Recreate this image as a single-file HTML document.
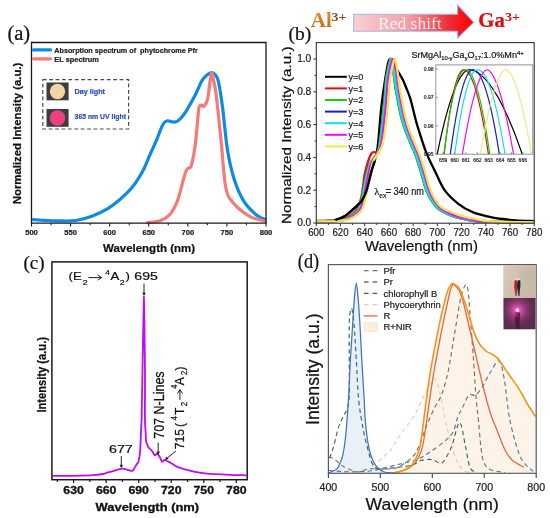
<!DOCTYPE html>
<html><head><meta charset="utf-8"><style>
html,body{margin:0;padding:0;background:#fff;}
svg{display:block;will-change:transform;font-family:"Liberation Sans",sans-serif;}
</style></head><body>
<svg width="550" height="518" viewBox="0 0 550 518">
<rect width="550" height="518" fill="#fff"/>
<text x="7.4" y="39.8" font-family="Liberation Serif" font-size="20.5" fill="#111" stroke="#111" stroke-width="0.22">(a)</text>
<path d="M33.50,219.60 C35.42,219.73 40.83,220.18 45.00,220.40 C49.17,220.62 53.35,220.88 58.50,220.90 C63.65,220.92 70.35,221.27 75.90,220.50 C81.45,219.73 86.48,218.28 91.80,216.30 C97.12,214.32 103.22,211.32 107.80,208.60 C112.38,205.88 115.20,203.60 119.30,200.00 C123.40,196.40 128.48,191.85 132.40,187.00 C136.32,182.15 139.90,176.20 142.80,170.90 C145.70,165.60 147.48,160.42 149.80,155.20 C152.12,149.98 154.53,144.67 156.70,139.60 C158.87,134.53 161.05,127.93 162.80,124.80 C164.55,121.67 165.35,121.25 167.20,120.80 C169.05,120.35 171.95,122.22 173.90,122.10 C175.85,121.98 177.02,121.68 178.90,120.10 C180.78,118.52 182.48,116.78 185.20,112.60 C187.92,108.42 192.42,100.32 195.20,95.00 C197.98,89.68 199.93,84.03 201.90,80.70 C203.87,77.37 205.40,76.35 207.00,75.00 C208.60,73.65 210.08,72.60 211.50,72.60 C212.92,72.60 214.33,73.43 215.50,75.00 C216.67,76.57 217.32,76.53 218.50,82.00 C219.68,87.47 221.12,96.58 222.60,107.80 C224.08,119.02 225.53,137.60 227.40,149.30 C229.27,161.00 231.15,169.50 233.80,178.00 C236.45,186.50 239.58,194.18 243.30,200.30 C247.02,206.42 252.45,211.52 256.10,214.70 C259.75,217.88 263.68,218.62 265.20,219.40" fill="none" stroke="#0b8ae8" stroke-width="3.2" stroke-linejoin="round" stroke-linecap="round"/>
<path d="M147.50,222.60 C149.58,222.28 156.23,222.10 160.00,220.70 C163.77,219.30 167.17,217.58 170.10,214.20 C173.03,210.82 175.30,206.47 177.60,200.40 C179.90,194.33 182.43,182.82 183.90,177.80 C185.37,172.78 185.57,171.97 186.40,170.30 C187.23,168.63 188.07,168.63 188.90,167.80 C189.73,166.97 190.35,169.07 191.40,165.30 C192.45,161.53 194.15,152.73 195.20,145.20 C196.25,137.67 197.07,126.38 197.70,120.10 C198.33,113.82 198.37,110.02 199.00,107.50 C199.63,104.98 200.67,105.20 201.50,105.00 C202.33,104.80 202.97,107.33 204.00,106.30 C205.03,105.27 206.67,103.18 207.70,98.80 C208.73,94.42 209.52,84.37 210.20,80.00 C210.88,75.63 211.25,72.60 211.80,72.60 C212.35,72.60 212.77,76.27 213.50,80.00 C214.23,83.73 214.95,85.05 216.20,95.00 C217.45,104.95 219.40,124.28 221.00,139.70 C222.60,155.12 223.67,176.87 225.80,187.50 C227.93,198.13 229.82,198.70 233.80,203.50 C237.78,208.30 244.47,213.35 249.70,216.30 C254.93,219.25 262.62,220.38 265.20,221.20" fill="none" stroke="#f67a78" stroke-width="3.2" stroke-linejoin="round" stroke-linecap="round"/>
<path d="M31.5,223.2 V42.5 H266.0 V223.2" fill="none" stroke="#1a1a1a" stroke-width="1.3"/>
<line x1="30.9" y1="223.2" x2="266.6" y2="223.2" stroke="#1a1a1a" stroke-width="1.3"/>
<path d="M31.50,223.2v3.2 M51.04,223.2v2.0 M70.58,223.2v3.2 M90.12,223.2v2.0 M109.67,223.2v3.2 M129.21,223.2v2.0 M148.75,223.2v3.2 M168.29,223.2v2.0 M187.83,223.2v3.2 M207.38,223.2v2.0 M226.92,223.2v3.2 M246.46,223.2v2.0 M266.00,223.2v3.2" stroke="#1a1a1a" stroke-width="1.1"/>
<text x="31.50" y="235.3" font-family="Liberation Sans" font-weight="bold" font-size="7.6" text-anchor="middle" fill="#222" stroke="#222" stroke-width="0.22">500</text>
<text x="70.58" y="235.3" font-family="Liberation Sans" font-weight="bold" font-size="7.6" text-anchor="middle" fill="#222" stroke="#222" stroke-width="0.22">550</text>
<text x="109.67" y="235.3" font-family="Liberation Sans" font-weight="bold" font-size="7.6" text-anchor="middle" fill="#222" stroke="#222" stroke-width="0.22">600</text>
<text x="148.75" y="235.3" font-family="Liberation Sans" font-weight="bold" font-size="7.6" text-anchor="middle" fill="#222" stroke="#222" stroke-width="0.22">650</text>
<text x="187.83" y="235.3" font-family="Liberation Sans" font-weight="bold" font-size="7.6" text-anchor="middle" fill="#222" stroke="#222" stroke-width="0.22">700</text>
<text x="226.92" y="235.3" font-family="Liberation Sans" font-weight="bold" font-size="7.6" text-anchor="middle" fill="#222" stroke="#222" stroke-width="0.22">750</text>
<text x="266.00" y="235.3" font-family="Liberation Sans" font-weight="bold" font-size="7.6" text-anchor="middle" fill="#222" stroke="#222" stroke-width="0.22">800</text>
<text x="103" y="251.6" font-family="Liberation Sans" font-weight="bold" font-size="11.4" textLength="92" lengthAdjust="spacingAndGlyphs" fill="#111" stroke="#111" stroke-width="0.22">Wavelength (nm)</text>
<text transform="translate(20.9,204.3) rotate(-90)" x="0" y="0" font-family="Liberation Sans" font-weight="bold" font-size="11.3" textLength="141.7" lengthAdjust="spacingAndGlyphs" fill="#111" stroke="#111" stroke-width="0.22">Normalized Intensity (a.u.)</text>
<line x1="33.5" y1="49.9" x2="50.5" y2="49.9" stroke="#0b8ae8" stroke-width="3.3" stroke-linecap="round"/>
<line x1="33.5" y1="58.8" x2="50.5" y2="58.8" stroke="#f67a78" stroke-width="3.3" stroke-linecap="round"/>
<text x="54.3" y="52.6" font-family="Liberation Sans" font-weight="bold" font-size="7.4" textLength="143.5" lengthAdjust="spacingAndGlyphs" fill="#222" stroke="#222" stroke-width="0.22">Absorption spectrum of&#160; phytochrome Pfr</text>
<text x="54.3" y="61.6" font-family="Liberation Sans" font-weight="bold" font-size="7.4" fill="#222" stroke="#222" stroke-width="0.22">EL spectrum</text>
<rect x="42.8" y="79.7" width="85.8" height="49.3" fill="none" stroke="#4a4a4a" stroke-width="1.2" stroke-dasharray="3.8,2.6"/>
<rect x="46.5" y="82.5" width="22.1" height="17.8" fill="#3e3e3e"/>
<circle cx="57.5" cy="91.5" r="7.7" fill="#f4d4a4"/>
<rect x="46.5" y="109" width="22.1" height="17.8" fill="#3e3e3e"/>
<circle cx="57.5" cy="118" r="7.8" fill="#ee3f7e"/>
<text x="74.6" y="94.0" font-family="Liberation Sans" font-weight="bold" font-size="7.2" fill="#2a4ec8" stroke="#2a4ec8" stroke-width="0.22">Day light</text>
<text x="74.6" y="118.8" font-family="Liberation Sans" font-weight="bold" font-size="7.2" textLength="51.4" lengthAdjust="spacingAndGlyphs" fill="#2a4ec8" stroke="#2a4ec8" stroke-width="0.22">365 nm UV light</text>
<text x="288.5" y="39.6" font-family="Liberation Serif" font-size="19.5" fill="#111" stroke="#111" stroke-width="0.22">(b)</text>
<defs>
<linearGradient id="arrG" x1="0" y1="0" x2="1" y2="0">
<stop offset="0" stop-color="#f7d0d4"/><stop offset="0.45" stop-color="#f4a0a8"/><stop offset="0.8" stop-color="#f02a30"/><stop offset="1" stop-color="#ff0000"/></linearGradient>
<linearGradient id="alG" x1="0" y1="0" x2="0" y2="1">
<stop offset="0" stop-color="#e8962a"/><stop offset="1" stop-color="#b8641a"/></linearGradient>
</defs>
<path d="M353.6,14.2 H457.5 V4.8 L473.8,22.5 L457.5,38.2 V31.2 H353.6 Z" fill="url(#arrG)" stroke="#a8b8e0" stroke-width="1.1"/>
<text x="378" y="28.7" font-family="Liberation Serif" font-size="16.5" textLength="63.7" lengthAdjust="spacingAndGlyphs" fill="#fff" fill-opacity="0.85">Red shift</text>
<text x="310.8" y="27.4" font-family="Liberation Serif" font-weight="bold" font-size="20" textLength="21" lengthAdjust="spacingAndGlyphs" fill="url(#alG)">Al</text>
<text x="331.6" y="21.4" font-family="Liberation Serif" font-weight="bold" font-size="12" textLength="14.8" lengthAdjust="spacingAndGlyphs" fill="#8a4a12" stroke="none">3+</text>
<text x="478.3" y="27.4" font-family="Liberation Serif" font-weight="bold" font-size="20" textLength="26.5" lengthAdjust="spacingAndGlyphs" fill="#e20a0a" stroke="#e20a0a" stroke-width="0.22">Ga</text>
<text x="505" y="21.4" font-family="Liberation Serif" font-weight="bold" font-size="12" textLength="15" lengthAdjust="spacingAndGlyphs" fill="#e20a0a" stroke="none">3+</text>
<path d="M316.30,221.03 C318.32,220.98 325.24,220.87 328.41,220.70 C331.57,220.54 332.62,220.79 335.31,220.05 C337.99,219.31 341.46,218.13 344.51,216.28 C347.55,214.42 351.33,210.84 353.59,208.90 C355.84,206.96 356.71,205.97 358.06,204.63 C359.42,203.29 360.28,203.21 361.70,200.86 C363.11,198.51 364.96,195.31 366.54,190.53 C368.11,185.74 369.79,177.05 371.14,172.16 C372.49,167.27 373.60,165.14 374.65,161.17 C375.70,157.21 376.67,153.57 377.43,148.38 C378.20,143.19 378.60,136.90 379.25,130.01 C379.89,123.12 380.34,115.39 381.31,107.05 C382.28,98.72 383.93,87.32 385.06,79.99 C386.19,72.67 387.24,66.60 388.09,63.10 C388.93,59.60 389.40,59.00 390.14,59.00 C390.89,59.00 391.44,61.32 392.57,63.10 C393.69,64.88 395.75,67.83 396.92,69.66 C398.09,71.49 398.58,72.37 399.59,74.09 C400.60,75.81 401.83,77.59 402.98,79.99 C404.13,82.40 405.28,85.46 406.49,88.52 C407.70,91.58 409.05,94.53 410.24,98.36 C411.43,102.19 412.50,107.11 413.63,111.48 C414.76,115.85 414.96,117.88 417.02,124.60 C419.08,131.32 423.03,144.17 425.98,151.82 C428.92,159.48 431.59,164.12 434.69,170.52 C437.80,176.92 440.68,184.65 444.62,190.20 C448.55,195.75 453.62,200.15 458.30,203.81 C462.98,207.47 467.48,209.99 472.70,212.18 C477.93,214.36 485.11,215.84 489.65,216.93 C494.19,218.03 495.54,218.16 499.94,218.74 C504.34,219.31 510.33,219.99 516.04,220.38 C521.75,220.76 531.17,220.92 534.20,221.03" fill="none" stroke="#000000" stroke-width="2.3" stroke-linejoin="round"/>
<path d="M316.66,221.36 C319.63,221.28 329.52,221.41 334.46,220.87 C339.40,220.32 342.51,220.08 346.32,218.08 C350.14,216.08 354.78,212.72 357.34,208.90 C359.90,205.07 360.49,200.81 361.70,195.12 C362.91,189.43 363.49,180.52 364.60,174.78 C365.71,169.04 367.20,164.26 368.35,160.68 C369.50,157.10 370.53,154.72 371.50,153.30 C372.47,151.88 373.28,152.23 374.16,152.15 C375.05,152.07 376.08,152.75 376.83,152.81 C377.57,152.86 378.14,153.90 378.64,152.48 C379.15,151.06 379.47,147.29 379.85,144.28 C380.24,141.27 380.54,138.27 380.94,134.44 C381.35,130.61 381.79,125.88 382.28,121.32 C382.76,116.76 383.22,113.94 383.85,107.05 C384.47,100.16 385.28,86.63 386.03,79.99 C386.77,73.35 387.66,70.43 388.33,67.20 C388.99,63.97 389.66,62.01 390.02,60.64 C390.39,59.27 390.22,58.86 390.51,59.00 C390.79,59.14 391.29,59.82 391.72,61.46 C392.14,63.10 392.65,66.24 393.05,68.84 C393.45,71.44 393.69,73.76 394.14,77.04 C394.58,80.32 395.05,84.42 395.71,88.52 C396.38,92.62 397.23,96.99 398.13,101.64 C399.04,106.29 400.05,111.89 401.16,116.40 C402.27,120.91 403.48,124.87 404.79,128.70 C406.10,132.53 407.76,136.22 409.03,139.36 C410.30,142.50 411.27,144.83 412.42,147.56 C413.57,150.29 414.50,151.66 415.93,155.76 C417.36,159.86 419.42,166.83 421.01,172.16 C422.61,177.49 424.16,183.78 425.49,187.74 C426.82,191.70 427.85,193.62 429.00,195.94 C430.15,198.26 431.08,199.77 432.39,201.68 C433.70,203.59 435.32,205.86 436.87,207.42 C438.42,208.98 439.29,209.66 441.71,211.03 C444.13,212.39 448.27,214.42 451.40,215.62 C454.53,216.82 457.15,217.42 460.48,218.24 C463.81,219.06 467.54,219.97 471.37,220.54 C475.21,221.11 477.02,221.41 483.48,221.69 C489.93,221.96 501.66,222.07 510.11,222.18 C518.56,222.29 530.18,222.32 534.20,222.34" fill="none" stroke="#e80c0c" stroke-width="2.3" stroke-linejoin="round"/>
<path d="M316.66,221.36 C319.69,221.31 329.82,221.44 334.82,221.03 C339.83,220.62 342.87,220.62 346.68,218.90 C350.50,217.18 355.14,214.12 357.70,210.70 C360.26,207.28 360.57,204.39 362.06,198.40 C363.55,192.41 365.17,180.80 366.65,174.78 C368.14,168.77 369.65,165.22 370.96,162.32 C372.27,159.42 373.47,158.90 374.50,157.40 C375.54,155.90 376.34,155.21 377.18,153.30 C378.01,151.39 378.86,149.06 379.51,145.92 C380.16,142.78 380.54,138.54 381.06,134.44 C381.58,130.34 382.11,125.88 382.64,121.32 C383.16,116.76 383.59,113.94 384.21,107.05 C384.84,100.16 385.64,86.63 386.39,79.99 C387.14,73.35 388.03,70.43 388.69,67.20 C389.36,63.97 390.02,62.01 390.39,60.64 C390.75,59.27 390.59,58.86 390.87,59.00 C391.15,59.14 391.66,59.82 392.08,61.46 C392.50,63.10 393.01,66.24 393.41,68.84 C393.82,71.44 394.06,73.76 394.50,77.04 C394.95,80.32 395.41,84.42 396.08,88.52 C396.74,92.62 397.59,96.99 398.50,101.64 C399.40,106.29 400.41,111.89 401.52,116.40 C402.63,120.91 403.84,124.87 405.15,128.70 C406.47,132.53 408.12,136.22 409.39,139.36 C410.66,142.50 411.63,144.83 412.78,147.56 C413.93,150.29 414.86,151.66 416.29,155.76 C417.72,159.86 419.78,166.83 421.38,172.16 C422.97,177.49 424.52,183.78 425.86,187.74 C427.19,191.70 428.22,193.62 429.37,195.94 C430.52,198.26 431.44,199.77 432.76,201.68 C434.07,203.59 435.68,205.86 437.23,207.42 C438.79,208.98 439.66,209.66 442.08,211.03 C444.50,212.39 448.63,214.42 451.76,215.62 C454.89,216.82 457.51,217.42 460.84,218.24 C464.17,219.06 467.90,219.97 471.74,220.54 C475.57,221.11 477.38,221.41 483.84,221.69 C490.30,221.96 502.08,222.07 510.47,222.18 C518.87,222.29 530.25,222.32 534.20,222.34" fill="none" stroke="#1a1ad0" stroke-width="2.3" stroke-linejoin="round"/>
<path d="M316.66,221.36 C319.63,221.31 329.52,221.44 334.46,221.03 C339.40,220.62 342.51,220.62 346.32,218.90 C350.14,217.18 354.78,214.12 357.34,210.70 C359.90,207.28 360.20,204.39 361.70,198.40 C363.19,192.41 364.78,180.80 366.30,174.78 C367.81,168.77 369.42,165.22 370.78,162.32 C372.13,159.42 373.36,158.90 374.41,157.40 C375.46,155.90 376.26,155.21 377.07,153.30 C377.88,151.39 378.64,149.06 379.25,145.92 C379.85,142.78 380.20,138.54 380.70,134.44 C381.21,130.34 381.75,125.88 382.28,121.32 C382.80,116.76 383.22,113.94 383.85,107.05 C384.47,100.16 385.28,86.63 386.03,79.99 C386.77,73.35 387.66,70.43 388.33,67.20 C388.99,63.97 389.66,62.01 390.02,60.64 C390.39,59.27 390.24,58.86 390.51,59.00 C390.77,59.14 391.19,59.82 391.60,61.46 C392.00,63.10 392.52,66.24 392.93,68.84 C393.33,71.44 393.57,73.76 394.02,77.04 C394.46,80.32 394.93,84.42 395.59,88.52 C396.26,92.62 397.10,96.99 398.01,101.64 C398.92,106.29 399.93,111.89 401.04,116.40 C402.15,120.91 403.36,124.87 404.67,128.70 C405.98,132.53 407.64,136.22 408.91,139.36 C410.18,142.50 411.15,144.83 412.30,147.56 C413.45,150.29 414.38,151.66 415.81,155.76 C417.24,159.86 419.30,166.83 420.89,172.16 C422.49,177.49 424.04,183.78 425.37,187.74 C426.70,191.70 427.73,193.62 428.88,195.94 C430.03,198.26 430.96,199.77 432.27,201.68 C433.58,203.59 435.20,205.86 436.75,207.42 C438.30,208.98 439.17,209.66 441.59,211.03 C444.01,212.39 448.15,214.42 451.28,215.62 C454.40,216.82 457.03,217.42 460.36,218.24 C463.69,219.06 467.42,219.97 471.25,220.54 C475.08,221.11 476.90,221.41 483.36,221.69 C489.81,221.96 501.52,222.07 509.99,222.18 C518.46,222.29 530.16,222.32 534.20,222.34" fill="none" stroke="#10d010" stroke-width="2.3" stroke-linejoin="round"/>
<path d="M316.66,221.36 C319.75,221.31 330.12,221.44 335.18,221.03 C340.25,220.62 343.23,220.62 347.05,218.90 C350.86,217.18 355.50,214.12 358.06,210.70 C360.63,207.28 360.93,204.39 362.42,198.40 C363.91,192.41 365.55,180.80 367.01,174.78 C368.46,168.77 369.89,165.22 371.15,162.32 C372.42,159.42 373.58,158.90 374.60,157.40 C375.63,155.90 376.42,155.21 377.28,153.30 C378.15,151.39 379.09,149.06 379.77,145.92 C380.46,142.78 380.89,138.54 381.42,134.44 C381.96,130.34 382.48,125.88 383.00,121.32 C383.53,116.76 383.95,113.94 384.58,107.05 C385.20,100.16 386.01,86.63 386.75,79.99 C387.50,73.35 388.39,70.43 389.05,67.20 C389.72,63.97 390.41,62.01 390.75,60.64 C391.09,59.27 390.85,58.86 391.11,59.00 C391.37,59.14 391.90,59.82 392.32,61.46 C392.75,63.10 393.25,66.24 393.65,68.84 C394.06,71.44 394.30,73.76 394.74,77.04 C395.19,80.32 395.65,84.42 396.32,88.52 C396.98,92.62 397.83,96.99 398.74,101.64 C399.65,106.29 400.66,111.89 401.77,116.40 C402.87,120.91 404.09,124.87 405.40,128.70 C406.71,132.53 408.36,136.22 409.63,139.36 C410.90,142.50 411.87,144.83 413.02,147.56 C414.17,150.29 415.10,151.66 416.53,155.76 C417.97,159.86 420.02,166.83 421.62,172.16 C423.21,177.49 424.77,183.78 426.10,187.74 C427.43,191.70 428.46,193.62 429.61,195.94 C430.76,198.26 431.69,199.77 433.00,201.68 C434.31,203.59 435.92,205.86 437.48,207.42 C439.03,208.98 439.90,209.66 442.32,211.03 C444.74,212.39 448.88,214.42 452.00,215.62 C455.13,216.82 457.75,217.42 461.08,218.24 C464.41,219.06 468.14,219.97 471.98,220.54 C475.81,221.11 477.63,221.41 484.08,221.69 C490.54,221.96 502.36,222.07 510.72,222.18 C519.07,222.29 530.29,222.32 534.20,222.34" fill="none" stroke="#10e0ee" stroke-width="2.3" stroke-linejoin="round"/>
<path d="M316.66,221.36 C319.95,221.31 331.13,221.44 336.40,221.03 C341.66,220.62 344.45,220.62 348.26,218.90 C352.07,217.18 356.71,214.12 359.27,210.70 C361.84,207.28 362.15,204.39 363.63,198.40 C365.12,192.41 366.84,180.80 368.20,174.78 C369.56,168.77 370.66,165.22 371.78,162.32 C372.90,159.42 373.95,158.90 374.93,157.40 C375.91,155.90 376.69,155.21 377.64,153.30 C378.60,151.39 379.82,149.06 380.65,145.92 C381.48,142.78 382.03,138.54 382.63,134.44 C383.22,130.34 383.69,125.88 384.21,121.32 C384.74,116.76 385.16,113.94 385.79,107.05 C386.41,100.16 387.22,86.63 387.96,79.99 C388.71,73.35 389.60,70.43 390.26,67.20 C390.93,63.97 391.56,62.01 391.96,60.64 C392.36,59.27 392.26,58.86 392.69,59.00 C393.11,59.14 393.98,59.82 394.50,61.46 C395.03,63.10 395.43,66.24 395.83,68.84 C396.24,71.44 396.48,73.76 396.92,77.04 C397.37,80.32 397.83,84.42 398.50,88.52 C399.16,92.62 400.01,96.99 400.92,101.64 C401.83,106.29 402.83,111.89 403.94,116.40 C405.05,120.91 406.26,124.87 407.58,128.70 C408.89,132.53 410.54,136.22 411.81,139.36 C413.08,142.50 414.05,144.83 415.20,147.56 C416.35,150.29 417.28,151.66 418.71,155.76 C420.15,159.86 422.20,166.83 423.80,172.16 C425.39,177.49 426.94,183.78 428.28,187.74 C429.61,191.70 430.64,193.62 431.79,195.94 C432.94,198.26 433.86,199.77 435.18,201.68 C436.50,203.59 438.11,205.86 439.72,207.42 C441.32,208.98 442.30,209.66 444.82,211.03 C447.35,212.39 451.63,214.42 454.85,215.62 C458.06,216.82 460.73,217.42 464.12,218.24 C467.51,219.06 471.31,219.97 475.19,220.54 C479.06,221.11 480.90,221.41 487.38,221.69 C493.85,221.96 506.24,222.07 514.04,222.18 C521.85,222.29 530.84,222.32 534.20,222.34" fill="none" stroke="#ee10ee" stroke-width="2.3" stroke-linejoin="round"/>
<path d="M316.66,221.36 C320.27,221.31 332.74,221.44 338.33,221.03 C343.92,220.62 346.38,220.62 350.20,218.90 C354.01,217.18 358.65,214.12 361.21,210.70 C363.77,207.28 364.09,204.39 365.57,198.40 C367.05,192.41 368.90,180.80 370.10,174.78 C371.30,168.77 371.89,165.22 372.79,162.32 C373.68,159.42 374.55,158.90 375.45,157.40 C376.36,155.90 377.11,155.21 378.21,153.30 C379.31,151.39 381.00,149.06 382.05,145.92 C383.11,142.78 383.87,138.54 384.55,134.44 C385.23,130.34 385.62,125.88 386.15,121.32 C386.68,116.76 387.10,113.94 387.72,107.05 C388.35,100.16 389.16,86.63 389.90,79.99 C390.65,73.35 391.54,70.43 392.20,67.20 C392.87,63.97 393.39,62.01 393.90,60.64 C394.40,59.27 394.91,58.86 395.23,59.00 C395.55,59.14 395.51,59.82 395.83,61.46 C396.16,63.10 396.76,66.24 397.17,68.84 C397.57,71.44 397.81,73.76 398.25,77.04 C398.70,80.32 399.16,84.42 399.83,88.52 C400.49,92.62 401.34,96.99 402.25,101.64 C403.16,106.29 404.17,111.89 405.28,116.40 C406.39,120.91 407.60,124.87 408.91,128.70 C410.22,132.53 411.87,136.22 413.14,139.36 C414.42,142.50 415.38,144.83 416.53,147.56 C417.68,150.29 418.61,151.66 420.04,155.76 C421.48,159.86 423.54,166.83 425.13,172.16 C426.72,177.49 428.28,183.78 429.61,187.74 C430.94,191.70 431.97,193.62 433.12,195.94 C434.27,198.26 435.12,199.77 436.51,201.68 C437.90,203.59 439.48,205.86 441.47,207.42 C443.46,208.98 445.22,209.66 448.44,211.03 C451.67,212.39 457.00,214.42 460.84,215.62 C464.68,216.82 467.66,217.42 471.47,218.24 C475.28,219.06 479.55,219.97 483.72,220.54 C487.89,221.11 489.89,221.41 496.50,221.69 C503.12,221.96 517.14,222.07 523.43,222.18 C529.71,222.29 532.40,222.32 534.20,222.34" fill="none" stroke="#f2e64e" stroke-width="2.3" stroke-linejoin="round"/>
<path d="M335.31,220.05 C336.84,219.42 341.46,218.13 344.51,216.28 C347.55,214.42 351.33,210.84 353.59,208.90 C355.84,206.96 356.71,205.97 358.06,204.63 C359.42,203.29 360.28,203.21 361.70,200.86 C363.11,198.51 364.96,195.31 366.54,190.53 C368.11,185.74 369.79,177.05 371.14,172.16 C372.49,167.27 374.06,163.00 374.65,161.17" fill="none" stroke="#000" stroke-width="2.3" stroke-linejoin="round"/>
<rect x="316.3" y="42.6" width="217.9" height="180.6" fill="none" stroke="#333" stroke-width="1.1"/>
<path d="M316.30,223.2v3.0 M328.41,223.2v1.8 M340.51,223.2v3.0 M352.62,223.2v1.8 M364.72,223.2v3.0 M376.83,223.2v1.8 M388.93,223.2v3.0 M401.04,223.2v1.8 M413.14,223.2v3.0 M425.25,223.2v1.8 M437.36,223.2v3.0 M449.46,223.2v1.8 M461.57,223.2v3.0 M473.67,223.2v1.8 M485.78,223.2v3.0 M497.88,223.2v1.8 M509.99,223.2v3.0 M522.09,223.2v1.8 M534.20,223.2v3.0 M316.3,223.00h-3.0 M316.3,206.60h-1.8 M316.3,190.20h-3.0 M316.3,173.80h-1.8 M316.3,157.40h-3.0 M316.3,141.00h-1.8 M316.3,124.60h-3.0 M316.3,108.20h-1.8 M316.3,91.80h-3.0 M316.3,75.40h-1.8 M316.3,59.00h-3.0" stroke="#333" stroke-width="1"/>
<text x="316.30" y="236.3" font-family="Liberation Sans" font-size="10.2" textLength="16.2" lengthAdjust="spacingAndGlyphs" text-anchor="middle" fill="#222" stroke="#222" stroke-width="0.22">600</text>
<text x="340.51" y="236.3" font-family="Liberation Sans" font-size="10.2" textLength="16.2" lengthAdjust="spacingAndGlyphs" text-anchor="middle" fill="#222" stroke="#222" stroke-width="0.22">620</text>
<text x="364.72" y="236.3" font-family="Liberation Sans" font-size="10.2" textLength="16.2" lengthAdjust="spacingAndGlyphs" text-anchor="middle" fill="#222" stroke="#222" stroke-width="0.22">640</text>
<text x="388.93" y="236.3" font-family="Liberation Sans" font-size="10.2" textLength="16.2" lengthAdjust="spacingAndGlyphs" text-anchor="middle" fill="#222" stroke="#222" stroke-width="0.22">660</text>
<text x="413.14" y="236.3" font-family="Liberation Sans" font-size="10.2" textLength="16.2" lengthAdjust="spacingAndGlyphs" text-anchor="middle" fill="#222" stroke="#222" stroke-width="0.22">680</text>
<text x="437.36" y="236.3" font-family="Liberation Sans" font-size="10.2" textLength="16.2" lengthAdjust="spacingAndGlyphs" text-anchor="middle" fill="#222" stroke="#222" stroke-width="0.22">700</text>
<text x="461.57" y="236.3" font-family="Liberation Sans" font-size="10.2" textLength="16.2" lengthAdjust="spacingAndGlyphs" text-anchor="middle" fill="#222" stroke="#222" stroke-width="0.22">720</text>
<text x="485.78" y="236.3" font-family="Liberation Sans" font-size="10.2" textLength="16.2" lengthAdjust="spacingAndGlyphs" text-anchor="middle" fill="#222" stroke="#222" stroke-width="0.22">740</text>
<text x="509.99" y="236.3" font-family="Liberation Sans" font-size="10.2" textLength="16.2" lengthAdjust="spacingAndGlyphs" text-anchor="middle" fill="#222" stroke="#222" stroke-width="0.22">760</text>
<text x="534.20" y="236.3" font-family="Liberation Sans" font-size="10.2" textLength="16.2" lengthAdjust="spacingAndGlyphs" text-anchor="middle" fill="#222" stroke="#222" stroke-width="0.22">780</text>
<text x="311.3" y="226.30" font-family="Liberation Sans" font-size="10.2" text-anchor="end" fill="#222" stroke="#222" stroke-width="0.22">0.0</text>
<text x="311.3" y="193.50" font-family="Liberation Sans" font-size="10.2" text-anchor="end" fill="#222" stroke="#222" stroke-width="0.22">0.2</text>
<text x="311.3" y="160.70" font-family="Liberation Sans" font-size="10.2" text-anchor="end" fill="#222" stroke="#222" stroke-width="0.22">0.4</text>
<text x="311.3" y="127.90" font-family="Liberation Sans" font-size="10.2" text-anchor="end" fill="#222" stroke="#222" stroke-width="0.22">0.6</text>
<text x="311.3" y="95.10" font-family="Liberation Sans" font-size="10.2" text-anchor="end" fill="#222" stroke="#222" stroke-width="0.22">0.8</text>
<text x="311.3" y="62.30" font-family="Liberation Sans" font-size="10.2" text-anchor="end" fill="#222" stroke="#222" stroke-width="0.22">1.0</text>
<text x="365.0" y="250.8" font-family="Liberation Sans" font-size="15.4" textLength="113" lengthAdjust="spacingAndGlyphs" fill="#111" stroke="#111" stroke-width="0.22">Wavelength (nm)</text>
<text transform="translate(291.0,224.0) rotate(-90)" font-family="Liberation Sans" font-size="13.3" textLength="177.5" lengthAdjust="spacingAndGlyphs" fill="#111" stroke="#111" stroke-width="0.22">Normalized Intensity (a.u.)</text>
<line x1="325" y1="76.80" x2="346.8" y2="76.80" stroke="#000000" stroke-width="2"/>
<text x="348.4" y="80.20" font-family="Liberation Sans" font-size="9.6" textLength="15" lengthAdjust="spacingAndGlyphs" fill="#222" stroke="#222" stroke-width="0.22">y=0</text>
<line x1="325" y1="88.40" x2="346.8" y2="88.40" stroke="#e80c0c" stroke-width="2"/>
<text x="348.4" y="91.80" font-family="Liberation Sans" font-size="9.6" textLength="15" lengthAdjust="spacingAndGlyphs" fill="#222" stroke="#222" stroke-width="0.22">y=1</text>
<line x1="325" y1="100.00" x2="346.8" y2="100.00" stroke="#10d010" stroke-width="2"/>
<text x="348.4" y="103.40" font-family="Liberation Sans" font-size="9.6" textLength="15" lengthAdjust="spacingAndGlyphs" fill="#222" stroke="#222" stroke-width="0.22">y=2</text>
<line x1="325" y1="111.60" x2="346.8" y2="111.60" stroke="#1a1ad0" stroke-width="2"/>
<text x="348.4" y="115.00" font-family="Liberation Sans" font-size="9.6" textLength="15" lengthAdjust="spacingAndGlyphs" fill="#222" stroke="#222" stroke-width="0.22">y=3</text>
<line x1="325" y1="123.20" x2="346.8" y2="123.20" stroke="#10e0ee" stroke-width="2"/>
<text x="348.4" y="126.60" font-family="Liberation Sans" font-size="9.6" textLength="15" lengthAdjust="spacingAndGlyphs" fill="#222" stroke="#222" stroke-width="0.22">y=4</text>
<line x1="325" y1="134.80" x2="346.8" y2="134.80" stroke="#ee10ee" stroke-width="2"/>
<text x="348.4" y="138.20" font-family="Liberation Sans" font-size="9.6" textLength="15" lengthAdjust="spacingAndGlyphs" fill="#222" stroke="#222" stroke-width="0.22">y=5</text>
<line x1="325" y1="146.40" x2="346.8" y2="146.40" stroke="#f2e64e" stroke-width="2"/>
<text x="348.4" y="149.80" font-family="Liberation Sans" font-size="9.6" textLength="15" lengthAdjust="spacingAndGlyphs" fill="#222" stroke="#222" stroke-width="0.22">y=6</text>
<text x="374.2" y="195.4" font-family="Liberation Serif" font-size="10.5" fill="#222" stroke="#222" stroke-width="0.22">&#955;</text>
<text x="379.3" y="198.2" font-family="Liberation Sans" font-size="6.8" fill="#222" stroke="#222" stroke-width="0.22">ex</text>
<text x="385.6" y="195.4" font-family="Liberation Sans" font-size="10" fill="#222" stroke="#222" stroke-width="0.22">=</text>
<text x="393.4" y="195.4" font-family="Liberation Sans" font-size="10" textLength="30.6" lengthAdjust="spacingAndGlyphs" fill="#222" stroke="#222" stroke-width="0.22">340 nm</text>
<text x="411.4" y="58.4" font-family="Liberation Sans" font-size="9.1" fill="#1a1a1a" stroke="#1a1a1a" stroke-width="0.22">SrMgAl<tspan font-size="5.8" dy="1.9">10-y</tspan><tspan dy="-1.9">Ga</tspan><tspan font-size="5.8" dy="1.9">y</tspan><tspan dy="-1.9">O</tspan><tspan font-size="5.8" dy="1.9">17</tspan><tspan dy="-1.9">:1.0%Mn</tspan><tspan font-size="5.8" dy="-3.4">4+</tspan></text>
<rect x="435.8" y="64.9" width="97.0" height="89.3" fill="#fff" stroke="#888" stroke-width="0.9"/>
<clipPath id="insClip"><rect x="435.8" y="64.9" width="97.0" height="89.3"/></clipPath>
<g clip-path="url(#insClip)">
<path d="M437.20,154.20 L438.26,149.07 L439.32,144.09 L440.38,139.25 L441.44,134.57 L442.50,130.04 L443.56,125.65 L444.62,121.43 L445.68,117.35 L446.74,113.43 L447.80,109.66 L448.86,106.05 L449.92,102.60 L450.98,99.31 L452.04,96.18 L453.10,93.21 L454.16,90.41 L455.22,87.77 L456.28,85.29 L457.34,82.99 L458.40,80.86 L459.46,78.90 L460.52,77.12 L461.58,75.52 L462.64,74.10 L463.70,72.87 L464.76,71.83 L465.82,70.99 L466.88,70.36 L467.94,69.96 L469.00,69.80 L470.77,69.96 L472.55,70.36 L474.32,70.99 L476.09,71.83 L477.87,72.87 L479.64,74.10 L481.41,75.52 L483.19,77.12 L484.96,78.90 L486.73,80.86 L488.51,82.99 L490.28,85.29 L492.05,87.77 L493.83,90.41 L495.60,93.21 L497.37,96.18 L499.15,99.31 L500.92,102.60 L502.69,106.05 L504.47,109.66 L506.24,113.43 L508.01,117.35 L509.79,121.43 L511.56,125.65 L513.33,130.04 L515.11,134.57 L516.88,139.25 L518.65,144.09 L520.43,149.07 L522.20,154.20" fill="none" stroke="#000000" stroke-width="1.2"/>
<path d="M444.20,154.20 L444.85,148.67 L445.49,143.32 L446.14,138.16 L446.79,133.19 L447.43,128.41 L448.08,123.82 L448.73,119.41 L449.37,115.19 L450.02,111.16 L450.67,107.31 L451.31,103.65 L451.96,100.18 L452.61,96.90 L453.25,93.81 L453.90,90.90 L454.55,88.18 L455.19,85.65 L455.84,83.30 L456.49,81.15 L457.13,79.18 L457.78,77.40 L458.43,75.80 L459.07,74.40 L459.72,73.18 L460.37,72.14 L461.01,71.30 L461.66,70.64 L462.31,70.18 L462.95,69.89 L463.60,69.80 L464.43,69.89 L465.25,70.18 L466.08,70.64 L466.91,71.30 L467.73,72.14 L468.56,73.18 L469.39,74.40 L470.21,75.80 L471.04,77.40 L471.87,79.18 L472.69,81.15 L473.52,83.30 L474.35,85.65 L475.17,88.18 L476.00,90.90 L476.83,93.81 L477.65,96.90 L478.48,100.18 L479.31,103.65 L480.13,107.31 L480.96,111.16 L481.79,115.19 L482.61,119.41 L483.44,123.82 L484.27,128.41 L485.09,133.19 L485.92,138.16 L486.75,143.32 L487.57,148.67 L488.40,154.20" fill="none" stroke="#e80c0c" stroke-width="1.2"/>
<path d="M443.80,154.20 L444.52,148.67 L445.24,143.32 L445.96,138.16 L446.68,133.19 L447.40,128.41 L448.12,123.82 L448.84,119.41 L449.56,115.19 L450.28,111.16 L451.00,107.31 L451.72,103.65 L452.44,100.18 L453.16,96.90 L453.88,93.81 L454.60,90.90 L455.32,88.18 L456.04,85.65 L456.76,83.30 L457.48,81.15 L458.20,79.18 L458.92,77.40 L459.64,75.80 L460.36,74.40 L461.08,73.18 L461.80,72.14 L462.52,71.30 L463.24,70.64 L463.96,70.18 L464.68,69.89 L465.40,69.80 L466.21,69.89 L467.03,70.18 L467.84,70.64 L468.65,71.30 L469.47,72.14 L470.28,73.18 L471.09,74.40 L471.91,75.80 L472.72,77.40 L473.53,79.18 L474.35,81.15 L475.16,83.30 L475.97,85.65 L476.79,88.18 L477.60,90.90 L478.41,93.81 L479.23,96.90 L480.04,100.18 L480.85,103.65 L481.67,107.31 L482.48,111.16 L483.29,115.19 L484.11,119.41 L484.92,123.82 L485.73,128.41 L486.55,133.19 L487.36,138.16 L488.17,143.32 L488.99,148.67 L489.80,154.20" fill="none" stroke="#10d010" stroke-width="1.2"/>
<path d="M450.30,154.20 L451.06,148.67 L451.81,143.32 L452.57,138.16 L453.33,133.19 L454.08,128.41 L454.84,123.82 L455.60,119.41 L456.35,115.19 L457.11,111.16 L457.87,107.31 L458.62,103.65 L459.38,100.18 L460.14,96.90 L460.89,93.81 L461.65,90.90 L462.41,88.18 L463.16,85.65 L463.92,83.30 L464.68,81.15 L465.43,79.18 L466.19,77.40 L466.95,75.80 L467.70,74.40 L468.46,73.18 L469.22,72.14 L469.97,71.30 L470.73,70.64 L471.49,70.18 L472.24,69.89 L473.00,69.80 L473.88,69.89 L474.75,70.18 L475.63,70.64 L476.51,71.30 L477.38,72.14 L478.26,73.18 L479.14,74.40 L480.01,75.80 L480.89,77.40 L481.77,79.18 L482.64,81.15 L483.52,83.30 L484.40,85.65 L485.27,88.18 L486.15,90.90 L487.03,93.81 L487.90,96.90 L488.78,100.18 L489.66,103.65 L490.53,107.31 L491.41,111.16 L492.29,115.19 L493.16,119.41 L494.04,123.82 L494.92,128.41 L495.79,133.19 L496.67,138.16 L497.55,143.32 L498.42,148.67 L499.30,154.20" fill="none" stroke="#1a1ad0" stroke-width="1.2"/>
<path d="M454.70,154.20 L455.46,148.67 L456.23,143.32 L456.99,138.16 L457.75,133.19 L458.52,128.41 L459.28,123.82 L460.04,119.41 L460.81,115.19 L461.57,111.16 L462.33,107.31 L463.10,103.65 L463.86,100.18 L464.62,96.90 L465.39,93.81 L466.15,90.90 L466.91,88.18 L467.68,85.65 L468.44,83.30 L469.20,81.15 L469.97,79.18 L470.73,77.40 L471.49,75.80 L472.26,74.40 L473.02,73.18 L473.78,72.14 L474.55,71.30 L475.31,70.64 L476.07,70.18 L476.84,69.89 L477.60,69.80 L478.51,69.89 L479.43,70.18 L480.34,70.64 L481.25,71.30 L482.17,72.14 L483.08,73.18 L483.99,74.40 L484.91,75.80 L485.82,77.40 L486.73,79.18 L487.65,81.15 L488.56,83.30 L489.47,85.65 L490.39,88.18 L491.30,90.90 L492.21,93.81 L493.13,96.90 L494.04,100.18 L494.95,103.65 L495.87,107.31 L496.78,111.16 L497.69,115.19 L498.61,119.41 L499.52,123.82 L500.43,128.41 L501.35,133.19 L502.26,138.16 L503.17,143.32 L504.09,148.67 L505.00,154.20" fill="none" stroke="#10e0ee" stroke-width="1.2"/>
<path d="M462.40,154.20 L463.22,149.20 L464.04,144.34 L464.86,139.62 L465.68,135.03 L466.50,130.59 L467.32,126.28 L468.14,122.12 L468.96,118.09 L469.78,114.21 L470.60,110.48 L471.42,106.89 L472.24,103.45 L473.06,100.16 L473.88,97.02 L474.70,94.04 L475.52,91.21 L476.34,88.53 L477.16,86.02 L477.98,83.67 L478.80,81.48 L479.62,79.46 L480.44,77.62 L481.26,75.95 L482.08,74.46 L482.90,73.15 L483.72,72.05 L484.54,71.14 L485.36,70.44 L486.18,69.99 L487.00,69.80 L487.88,69.99 L488.77,70.44 L489.65,71.14 L490.53,72.05 L491.42,73.15 L492.30,74.46 L493.18,75.95 L494.07,77.62 L494.95,79.46 L495.83,81.48 L496.72,83.67 L497.60,86.02 L498.48,88.53 L499.37,91.21 L500.25,94.04 L501.13,97.02 L502.02,100.16 L502.90,103.45 L503.78,106.89 L504.67,110.48 L505.55,114.21 L506.43,118.09 L507.32,122.12 L508.20,126.28 L509.08,130.59 L509.97,135.03 L510.85,139.62 L511.73,144.34 L512.62,149.20 L513.50,154.20" fill="none" stroke="#ee10ee" stroke-width="1.2"/>
<path d="M480.40,154.20 L481.25,149.20 L482.11,144.34 L482.96,139.62 L483.81,135.03 L484.67,130.59 L485.52,126.28 L486.37,122.12 L487.23,118.09 L488.08,114.21 L488.93,110.48 L489.79,106.89 L490.64,103.45 L491.49,100.16 L492.35,97.02 L493.20,94.04 L494.05,91.21 L494.91,88.53 L495.76,86.02 L496.61,83.67 L497.47,81.48 L498.32,79.46 L499.17,77.62 L500.03,75.95 L500.88,74.46 L501.73,73.15 L502.59,72.05 L503.44,71.14 L504.29,70.44 L505.15,69.99 L506.00,69.80 L506.85,69.99 L507.69,70.44 L508.54,71.14 L509.39,72.05 L510.23,73.15 L511.08,74.46 L511.93,75.95 L512.77,77.62 L513.62,79.46 L514.47,81.48 L515.31,83.67 L516.16,86.02 L517.01,88.53 L517.85,91.21 L518.70,94.04 L519.55,97.02 L520.39,100.16 L521.24,103.45 L522.09,106.89 L522.93,110.48 L523.78,114.21 L524.63,118.09 L525.47,122.12 L526.32,126.28 L527.17,130.59 L528.01,135.03 L528.86,139.62 L529.71,144.34 L530.55,149.20 L531.40,154.20" fill="none" stroke="#eeea80" stroke-width="1.2"/>
</g>
<text x="433.5" y="70.90" font-family="Liberation Sans" font-size="5" text-anchor="end" fill="#333" stroke="#333" stroke-width="0.22">0.98</text>
<text x="433.5" y="99.27" font-family="Liberation Sans" font-size="5" text-anchor="end" fill="#333" stroke="#333" stroke-width="0.22">0.97</text>
<text x="433.5" y="127.64" font-family="Liberation Sans" font-size="5" text-anchor="end" fill="#333" stroke="#333" stroke-width="0.22">0.96</text>
<text x="433.5" y="156.01" font-family="Liberation Sans" font-size="5" text-anchor="end" fill="#333" stroke="#333" stroke-width="0.22">0.95</text>
<text x="443.20" y="162.3" font-family="Liberation Sans" font-size="5" text-anchor="middle" fill="#333" stroke="#333" stroke-width="0.22">659</text>
<text x="454.57" y="162.3" font-family="Liberation Sans" font-size="5" text-anchor="middle" fill="#333" stroke="#333" stroke-width="0.22">660</text>
<text x="465.94" y="162.3" font-family="Liberation Sans" font-size="5" text-anchor="middle" fill="#333" stroke="#333" stroke-width="0.22">661</text>
<text x="477.31" y="162.3" font-family="Liberation Sans" font-size="5" text-anchor="middle" fill="#333" stroke="#333" stroke-width="0.22">662</text>
<text x="488.68" y="162.3" font-family="Liberation Sans" font-size="5" text-anchor="middle" fill="#333" stroke="#333" stroke-width="0.22">663</text>
<text x="500.05" y="162.3" font-family="Liberation Sans" font-size="5" text-anchor="middle" fill="#333" stroke="#333" stroke-width="0.22">664</text>
<text x="511.42" y="162.3" font-family="Liberation Sans" font-size="5" text-anchor="middle" fill="#333" stroke="#333" stroke-width="0.22">665</text>
<text x="522.79" y="162.3" font-family="Liberation Sans" font-size="5" text-anchor="middle" fill="#333" stroke="#333" stroke-width="0.22">666</text>
<path d="M435.8,69.10h2 M435.8,97.47h2 M435.8,125.84h2 M435.8,154.21h2 M443.20,154.2v-2 M454.57,154.2v-2 M465.94,154.2v-2 M477.31,154.2v-2 M488.68,154.2v-2 M500.05,154.2v-2 M511.42,154.2v-2 M522.79,154.2v-2" stroke="#666" stroke-width="0.7"/>
<text x="23.4" y="269.4" font-family="Liberation Serif" font-size="19" fill="#111" stroke="#111" stroke-width="0.22">(c)</text>
<path d="M52.50,475.90 C55.42,475.88 63.75,475.88 70.00,475.80 C76.25,475.72 85.50,475.57 90.00,475.40 C94.50,475.23 94.80,475.03 97.00,474.80 C99.20,474.57 101.48,474.35 103.20,474.00 C104.92,473.65 105.93,473.10 107.30,472.70 C108.67,472.30 109.63,472.12 111.40,471.60 C113.17,471.08 116.00,470.10 117.90,469.60 C119.80,469.10 121.57,468.68 122.80,468.60 C124.03,468.52 124.20,468.80 125.30,469.10 C126.40,469.40 128.18,470.13 129.40,470.40 C130.62,470.67 131.78,471.05 132.60,470.70 C133.42,470.35 133.62,469.38 134.30,468.30 C134.98,467.22 136.02,465.30 136.70,464.20 C137.38,463.10 137.85,463.62 138.40,461.70 C138.95,459.78 139.60,456.92 140.00,452.70 C140.40,448.48 140.67,439.12 140.80,436.40 L140.80,436.40 L141.60,420.00 L142.50,370.00 L143.40,320.00 L143.90,296.60 L144.40,320.00 L145.00,370.00 L144.90,420.00 L146.10,441.30 C146.45,442.25 147.30,445.50 148.20,447.00 C149.10,448.50 150.42,448.93 151.50,450.30 C152.58,451.67 153.75,454.65 154.70,455.20 C155.65,455.75 156.38,453.33 157.20,453.60 C158.02,453.87 158.78,455.45 159.60,456.80 C160.42,458.15 161.27,461.15 162.10,461.70 C162.93,462.25 163.23,459.95 164.60,460.10 C165.97,460.25 168.27,461.52 170.30,462.60 C172.33,463.68 174.35,465.47 176.80,466.60 C179.25,467.73 181.97,468.53 185.00,469.40 C188.03,470.27 191.67,471.15 195.00,471.80 C198.33,472.45 201.67,472.90 205.00,473.30 C208.33,473.70 210.83,473.93 215.00,474.20 C219.17,474.47 224.75,474.72 230.00,474.90 C235.25,475.08 243.75,475.23 246.50,475.30" fill="none" stroke="#c00cf0" stroke-width="1.8" stroke-linejoin="round"/>
<rect x="51.9" y="261.9" width="195.3" height="217.8" fill="none" stroke="#1a1a1a" stroke-width="1.5"/>
<path d="M57.32,479.7v2.2 M73.60,479.7v3.4 M89.88,479.7v2.2 M106.15,479.7v3.4 M122.42,479.7v2.2 M138.70,479.7v3.4 M154.97,479.7v2.2 M171.25,479.7v3.4 M187.52,479.7v2.2 M203.80,479.7v3.4 M220.07,479.7v2.2 M236.35,479.7v3.4" stroke="#1a1a1a" stroke-width="1.2"/>
<text x="73.60" y="493.5" font-family="Liberation Sans" font-weight="bold" font-size="10.5" textLength="20.5" lengthAdjust="spacingAndGlyphs" text-anchor="middle" fill="#111" stroke="#111" stroke-width="0.3">630</text>
<text x="106.15" y="493.5" font-family="Liberation Sans" font-weight="bold" font-size="10.5" textLength="20.5" lengthAdjust="spacingAndGlyphs" text-anchor="middle" fill="#111" stroke="#111" stroke-width="0.3">660</text>
<text x="138.70" y="493.5" font-family="Liberation Sans" font-weight="bold" font-size="10.5" textLength="20.5" lengthAdjust="spacingAndGlyphs" text-anchor="middle" fill="#111" stroke="#111" stroke-width="0.3">690</text>
<text x="171.25" y="493.5" font-family="Liberation Sans" font-weight="bold" font-size="10.5" textLength="20.5" lengthAdjust="spacingAndGlyphs" text-anchor="middle" fill="#111" stroke="#111" stroke-width="0.3">720</text>
<text x="203.80" y="493.5" font-family="Liberation Sans" font-weight="bold" font-size="10.5" textLength="20.5" lengthAdjust="spacingAndGlyphs" text-anchor="middle" fill="#111" stroke="#111" stroke-width="0.3">750</text>
<text x="236.35" y="493.5" font-family="Liberation Sans" font-weight="bold" font-size="10.5" textLength="20.5" lengthAdjust="spacingAndGlyphs" text-anchor="middle" fill="#111" stroke="#111" stroke-width="0.3">780</text>
<text x="95.6" y="510.6" font-family="Liberation Sans" font-weight="bold" font-size="10.8" textLength="103.5" lengthAdjust="spacingAndGlyphs" fill="#111" stroke="#111" stroke-width="0.3">Wavelength (nm)</text>
<text transform="translate(45.9,412.6) rotate(-90)" font-family="Liberation Sans" font-weight="bold" font-size="12.4" textLength="75.6" lengthAdjust="spacingAndGlyphs" fill="#111" stroke="#111" stroke-width="0.22">Intensity (a.u.)</text>
<text transform="translate(68.60,280.30) scale(1.120,1)" font-size="11.80" font-family="Liberation Sans" fill="#111" stroke="#111" stroke-width="0.22">(E</text>
<text transform="translate(82.80,284.80) scale(1.120,1)" font-size="7.80" font-family="Liberation Sans" fill="#111" stroke="#111" stroke-width="0.22">2</text>
<path d="M88.4,277.6 H101.4 M97.6,275.0 L101.6,277.6 L97.6,280.2" fill="none" stroke="#111" stroke-width="0.95"/>
<text transform="translate(105.30,275.40) scale(1.120,1)" font-size="7.40" font-family="Liberation Sans" fill="#111" stroke="#111" stroke-width="0.22">4</text>
<text transform="translate(110.50,280.30) scale(1.120,1)" font-size="11.80" font-family="Liberation Sans" fill="#111" stroke="#111" stroke-width="0.22">A</text>
<text transform="translate(119.70,284.70) scale(1.120,1)" font-size="7.80" font-family="Liberation Sans" fill="#111" stroke="#111" stroke-width="0.22">2</text>
<text transform="translate(125.50,280.30) scale(1.120,1)" font-size="11.80" font-family="Liberation Sans" fill="#111" stroke="#111" stroke-width="0.22">)</text>
<text transform="translate(134.30,280.00) scale(1.000,1)" font-size="11.80" font-family="Liberation Sans" fill="#111" textLength="23.60" lengthAdjust="spacingAndGlyphs" stroke="#111" stroke-width="0.22">695</text>
<text transform="translate(109.00,452.80) scale(1.000,1)" font-size="11.80" font-family="Liberation Sans" fill="#111" textLength="23.80" lengthAdjust="spacingAndGlyphs" stroke="#111" stroke-width="0.22">677</text>
<text transform="translate(164.00,438.80) scale(1.160,1) rotate(-90)" font-size="12.60" font-family="Liberation Sans" fill="#111" textLength="67.40" lengthAdjust="spacingAndGlyphs" stroke="#111" stroke-width="0.22">707 N-Lines</text>
<text transform="translate(183.50,449.20) scale(1.120,1) rotate(-90)" font-size="12.00" font-family="Liberation Sans" fill="#111" textLength="20.30" lengthAdjust="spacingAndGlyphs" stroke="#111" stroke-width="0.22">715</text>
<text transform="translate(183.50,426.90) scale(1.120,1) rotate(-90)" font-size="12.00" font-family="Liberation Sans" fill="#111" stroke="#111" stroke-width="0.22">(</text>
<text transform="translate(176.50,420.20) scale(1.120,1) rotate(-90)" font-size="7.40" font-family="Liberation Sans" fill="#111" stroke="#111" stroke-width="0.22">4</text>
<text transform="translate(183.50,414.90) scale(1.120,1) rotate(-90)" font-size="12.00" font-family="Liberation Sans" fill="#111" stroke="#111" stroke-width="0.22">T</text>
<text transform="translate(186.50,406.20) scale(1.120,1) rotate(-90)" font-size="7.80" font-family="Liberation Sans" fill="#111" stroke="#111" stroke-width="0.22">2</text>
<path d="M179.9,399.8 V389.8 M177.3,393.6 L179.9,389.6 L182.5,393.6" fill="none" stroke="#111" stroke-width="0.95"/>
<text transform="translate(176.50,388.70) scale(1.120,1) rotate(-90)" font-size="7.40" font-family="Liberation Sans" fill="#111" stroke="#111" stroke-width="0.22">4</text>
<text transform="translate(183.50,385.20) scale(1.120,1) rotate(-90)" font-size="12.00" font-family="Liberation Sans" fill="#111" stroke="#111" stroke-width="0.22">A</text>
<text transform="translate(186.50,375.10) scale(1.120,1) rotate(-90)" font-size="7.80" font-family="Liberation Sans" fill="#111" stroke="#111" stroke-width="0.22">2</text>
<text transform="translate(183.50,370.60) scale(1.120,1) rotate(-90)" font-size="12.00" font-family="Liberation Sans" fill="#111" stroke="#111" stroke-width="0.22">)</text>
<line x1="144.00" y1="283.50" x2="144.00" y2="292.40" stroke="#111" stroke-width="0.9"/><path d="M144.00,296.00 L142.30,292.40 L145.70,292.40 Z" fill="#111"/>
<line x1="121.30" y1="456.00" x2="121.30" y2="464.70" stroke="#111" stroke-width="0.9"/><path d="M121.30,468.30 L119.60,464.70 L123.00,464.70 Z" fill="#111"/>
<line x1="158.20" y1="442.50" x2="158.20" y2="451.40" stroke="#111" stroke-width="0.9"/><path d="M158.20,455.00 L156.50,451.40 L159.90,451.40 Z" fill="#111"/>
<line x1="176.00" y1="451.00" x2="167.61" y2="457.74" stroke="#111" stroke-width="0.9"/><path d="M164.80,460.00 L166.54,456.42 L168.67,459.07 Z" fill="#111"/>
<text x="297.8" y="268.3" font-family="Liberation Serif" font-size="20.3" textLength="21.4" lengthAdjust="spacingAndGlyphs" fill="#111" stroke="#111" stroke-width="0.22">(d)</text>
<defs>
<radialGradient id="glow" cx="0.5" cy="0.5" r="0.5">
<stop offset="0" stop-color="#ffc8f0"/><stop offset="0.12" stop-color="#e458c4"/><stop offset="0.45" stop-color="#a83c88" stop-opacity="0.7"/><stop offset="1" stop-color="#5a2e4a" stop-opacity="0"/></radialGradient>
<linearGradient id="bg1" x1="0" y1="0" x2="1" y2="0.6">
<stop offset="0" stop-color="#d8ccba"/><stop offset="1" stop-color="#c6baa6"/></linearGradient>
<radialGradient id="vig1" cx="0.75" cy="0.3" r="0.4">
<stop offset="0" stop-color="#b8ad9c" stop-opacity="0.45"/><stop offset="1" stop-color="#b8ad9c" stop-opacity="0"/></radialGradient>
</defs>
<path d="M394.80,472.60 C396.17,472.25 400.22,471.73 403.00,470.50 C405.78,469.27 409.25,467.45 411.50,465.20 C413.75,462.95 414.97,460.70 416.50,457.00 C418.03,453.30 419.12,452.17 420.70,443.00 C422.28,433.83 424.28,414.50 426.00,402.00 C427.72,389.50 428.85,380.62 431.00,368.00 C433.15,355.38 436.73,336.97 438.90,326.30 C441.07,315.63 442.48,310.05 444.00,304.00 C445.52,297.95 446.62,293.42 448.00,290.00 C449.38,286.58 450.97,284.25 452.30,283.50 C453.63,282.75 454.77,284.53 456.00,285.50 C457.23,286.47 457.92,285.58 459.70,289.30 C461.48,293.02 464.38,300.85 466.70,307.80 C469.02,314.75 471.47,324.97 473.60,331.00 C475.73,337.03 477.43,340.67 479.50,344.00 C481.57,347.33 484.00,349.33 486.00,351.00 C488.00,352.67 489.55,352.77 491.50,354.00 C493.45,355.23 495.72,356.32 497.70,358.40 C499.68,360.48 501.35,363.57 503.40,366.50 C505.45,369.43 507.88,372.98 510.00,376.00 C512.12,379.02 514.10,381.60 516.10,384.60 C518.10,387.60 520.02,390.60 522.00,394.00 C523.98,397.40 525.73,401.25 528.00,405.00 C530.27,408.75 534.33,414.58 535.60,416.50 L535.6,472.6 L394.8,472.6 Z" fill="#fdf3e8"/>
<path d="M328.60,473.00 C329.97,472.32 334.90,470.57 336.80,468.90 C338.70,467.23 339.02,465.20 340.00,463.00 C340.98,460.80 341.77,460.08 342.70,455.70 C343.63,451.32 344.65,445.98 345.60,436.70 C346.55,427.42 347.60,412.83 348.40,400.00 C349.20,387.17 349.68,372.40 350.40,359.70 C351.12,347.00 352.02,334.25 352.70,323.80 C353.38,313.35 353.90,303.77 354.50,297.00 C355.10,290.23 355.72,283.20 356.30,283.20 C356.88,283.20 357.40,290.23 358.00,297.00 C358.60,303.77 359.27,313.35 359.90,323.80 C360.53,334.25 361.08,347.00 361.80,359.70 C362.52,372.40 363.60,389.62 364.20,400.00 C364.80,410.38 364.60,413.93 365.40,422.00 C366.20,430.07 367.40,441.32 369.00,448.40 C370.60,455.48 372.55,460.60 375.00,464.50 C377.45,468.40 380.37,470.38 383.70,471.80 C387.03,473.22 393.12,472.80 395.00,473.00 L395,473 L328.6,473 Z" fill="#eaf0f8"/>
<path d="M372.00,466.00 C372.73,465.50 373.40,465.57 376.40,463.00 C379.40,460.43 386.32,454.87 390.00,450.60 C393.68,446.33 394.62,443.00 398.50,437.40 C402.38,431.80 409.38,423.23 413.30,417.00 C417.22,410.77 419.55,404.83 422.00,400.00 C424.45,395.17 426.03,391.58 428.00,388.00 C429.97,384.42 432.23,379.22 433.80,378.50 C435.37,377.78 436.20,380.45 437.40,383.70 C438.60,386.95 439.45,390.90 441.00,398.00 C442.55,405.10 444.52,416.97 446.70,426.30 C448.88,435.63 452.05,447.55 454.10,454.00 C456.15,460.45 457.47,462.22 459.00,465.00 C460.53,467.78 461.47,469.43 463.30,470.70 C465.13,471.97 468.88,472.28 470.00,472.60" fill="none" stroke="#f5c6b0" stroke-width="1.15" stroke-dasharray="4.4,3.3"/>
<path d="M328.60,457.50 C329.48,457.68 331.55,457.18 333.90,458.60 C336.25,460.02 338.80,463.80 342.70,466.00 C346.60,468.20 352.92,471.32 357.30,471.80 C361.68,472.28 364.10,469.38 369.00,468.90 C373.90,468.42 381.78,469.22 386.70,468.90 C391.62,468.58 394.07,469.15 398.50,467.00 C402.93,464.85 409.72,459.95 413.30,456.00 C416.88,452.05 417.67,448.63 420.00,443.30 C422.33,437.97 424.85,429.97 427.30,424.00 C429.75,418.03 432.33,412.33 434.70,407.50 C437.07,402.67 439.32,400.75 441.50,395.00 C443.68,389.25 445.73,382.52 447.80,373.00 C449.87,363.48 451.92,349.55 453.90,337.90 C455.88,326.25 458.18,311.08 459.70,303.10 C461.22,295.12 461.92,293.08 463.00,290.00 C464.08,286.92 465.33,284.27 466.20,284.60 C467.07,284.93 467.55,286.98 468.20,292.00 C468.85,297.02 469.20,303.20 470.10,314.70 C471.00,326.20 472.63,347.50 473.60,361.00 C474.57,374.50 475.08,385.70 475.90,395.70 C476.72,405.70 477.65,412.28 478.50,421.00 C479.35,429.72 480.12,441.17 481.00,448.00 C481.88,454.83 482.30,458.42 483.80,462.00 C485.30,465.58 486.47,467.73 490.00,469.50 C493.53,471.27 502.50,472.08 505.00,472.60" fill="none" stroke="#8a6a4c" stroke-width="1.15" stroke-dasharray="4.4,3.3"/>
<path d="M329.50,458.00 C329.75,457.38 330.27,456.38 331.00,454.30 C331.73,452.22 332.68,449.90 333.90,445.50 C335.12,441.10 336.83,432.55 338.30,427.90 C339.77,423.25 341.25,420.78 342.70,417.60 C344.15,414.42 345.92,412.57 347.00,408.80 C348.08,405.03 348.83,406.47 349.20,395.00 C349.57,383.53 349.15,352.83 349.20,340.00 C349.25,327.17 349.10,323.28 349.50,318.00 C349.90,312.72 350.85,307.33 351.60,308.30 C352.35,309.27 353.22,315.23 354.00,323.80 C354.78,332.37 355.52,347.00 356.30,359.70 C357.08,372.40 357.55,388.40 358.70,400.00 C359.85,411.60 361.72,421.23 363.20,429.30 C364.68,437.37 366.13,442.78 367.60,448.40 C369.07,454.02 370.28,459.58 372.00,463.00 C373.72,466.42 374.90,468.03 377.90,468.90 C380.90,469.77 384.40,468.82 390.00,468.20 C395.60,467.58 406.33,466.48 411.50,465.20 C416.67,463.92 417.60,461.43 421.00,460.50 C424.40,459.57 428.55,459.13 431.90,459.60 C435.25,460.07 438.58,463.90 441.10,463.30 C443.62,462.70 445.15,459.08 447.00,456.00 C448.85,452.92 450.10,450.37 452.20,444.80 C454.30,439.23 457.43,422.60 459.60,422.60 C461.77,422.60 463.50,437.40 465.20,444.80 C466.90,452.20 468.00,462.38 469.80,467.00 C471.60,471.62 474.97,471.58 476.00,472.50" fill="none" stroke="#2f6b5c" stroke-width="1.15" stroke-dasharray="4.4,3.3"/>
<path d="M329.00,470.50 C332.50,470.72 343.17,471.72 350.00,471.80 C356.83,471.88 365.00,471.48 370.00,471.00 C375.00,470.52 375.00,470.07 380.00,468.90 C385.00,467.73 393.83,465.55 400.00,464.00 C406.17,462.45 412.00,461.60 417.00,459.60 C422.00,457.60 425.37,455.08 430.00,452.00 C434.63,448.92 440.95,444.45 444.80,441.10 C448.65,437.75 450.93,435.92 453.10,431.90 C455.27,427.88 456.27,420.95 457.80,417.00 C459.33,413.05 460.45,411.85 462.30,408.20 C464.15,404.55 466.72,397.28 468.90,395.10 C471.08,392.92 473.22,396.42 475.40,395.10 C477.58,393.78 479.57,390.88 482.00,387.20 C484.43,383.52 487.17,377.37 490.00,373.00 C492.83,368.63 496.62,359.93 499.00,361.00 C501.38,362.07 502.53,369.78 504.30,379.40 C506.07,389.02 507.20,406.45 509.60,418.70 C512.00,430.95 515.97,445.18 518.70,452.90 C521.43,460.62 523.58,461.95 526.00,465.00 C528.42,468.05 532.00,470.17 533.20,471.20" fill="none" stroke="#557a92" stroke-width="1.15" stroke-dasharray="4.4,3.3"/>
<path d="M394.80,472.60 C396.25,472.25 400.55,471.68 403.50,470.50 C406.45,469.32 410.00,467.67 412.50,465.50 C415.00,463.33 416.70,461.25 418.50,457.50 C420.30,453.75 421.50,452.25 423.30,443.00 C425.10,433.75 427.42,414.50 429.30,402.00 C431.18,389.50 432.40,380.62 434.60,368.00 C436.80,355.38 440.40,336.97 442.50,326.30 C444.60,315.63 445.87,310.05 447.20,304.00 C448.53,297.95 449.53,293.20 450.50,290.00 C451.47,286.80 452.08,285.38 453.00,284.80 C453.92,284.22 454.88,285.37 456.00,286.50 C457.12,287.63 458.37,288.52 459.70,291.60 C461.03,294.68 462.45,299.22 464.00,305.00 C465.55,310.78 467.53,320.13 469.00,326.30 C470.47,332.47 471.27,335.45 472.80,342.00 C474.33,348.55 476.23,357.18 478.20,365.60 C480.17,374.02 482.47,384.27 484.60,392.50 C486.73,400.73 488.82,408.43 491.00,415.00 C493.18,421.57 495.37,426.07 497.70,431.90 C500.03,437.73 502.62,445.32 505.00,450.00 C507.38,454.68 508.83,457.12 512.00,460.00 C515.17,462.88 522.00,466.08 524.00,467.30" fill="none" stroke="#e2683e" stroke-width="1.3"/>
<path d="M394.80,472.60 C396.17,472.25 400.22,471.73 403.00,470.50 C405.78,469.27 409.25,467.45 411.50,465.20 C413.75,462.95 414.97,460.70 416.50,457.00 C418.03,453.30 419.12,452.17 420.70,443.00 C422.28,433.83 424.28,414.50 426.00,402.00 C427.72,389.50 428.85,380.62 431.00,368.00 C433.15,355.38 436.73,336.97 438.90,326.30 C441.07,315.63 442.48,310.05 444.00,304.00 C445.52,297.95 446.62,293.42 448.00,290.00 C449.38,286.58 450.97,284.25 452.30,283.50 C453.63,282.75 454.77,284.53 456.00,285.50 C457.23,286.47 457.92,285.58 459.70,289.30 C461.48,293.02 464.38,300.85 466.70,307.80 C469.02,314.75 471.47,324.97 473.60,331.00 C475.73,337.03 477.43,340.67 479.50,344.00 C481.57,347.33 484.00,349.33 486.00,351.00 C488.00,352.67 489.55,352.77 491.50,354.00 C493.45,355.23 495.72,356.32 497.70,358.40 C499.68,360.48 501.35,363.57 503.40,366.50 C505.45,369.43 507.88,372.98 510.00,376.00 C512.12,379.02 514.10,381.60 516.10,384.60 C518.10,387.60 520.02,390.60 522.00,394.00 C523.98,397.40 525.73,401.25 528.00,405.00 C530.27,408.75 534.33,414.58 535.60,416.50" fill="none" stroke="#f0961e" stroke-width="1.6"/>
<path d="M328.60,473.00 C329.97,472.32 334.90,470.57 336.80,468.90 C338.70,467.23 339.02,465.20 340.00,463.00 C340.98,460.80 341.77,460.08 342.70,455.70 C343.63,451.32 344.65,445.98 345.60,436.70 C346.55,427.42 347.60,412.83 348.40,400.00 C349.20,387.17 349.68,372.40 350.40,359.70 C351.12,347.00 352.02,334.25 352.70,323.80 C353.38,313.35 353.90,303.77 354.50,297.00 C355.10,290.23 355.72,283.20 356.30,283.20 C356.88,283.20 357.40,290.23 358.00,297.00 C358.60,303.77 359.27,313.35 359.90,323.80 C360.53,334.25 361.08,347.00 361.80,359.70 C362.52,372.40 363.60,389.62 364.20,400.00 C364.80,410.38 364.60,413.93 365.40,422.00 C366.20,430.07 367.40,441.32 369.00,448.40 C370.60,455.48 372.55,460.60 375.00,464.50 C377.45,468.40 380.37,470.38 383.70,471.80 C387.03,473.22 393.12,472.80 395.00,473.00" fill="none" stroke="#4270c2" stroke-width="1.25"/>
<rect x="328.4" y="264.6" width="207.8" height="208.7" fill="none" stroke="#5a5a5a" stroke-width="1.2"/>
<path d="M328.40,473.3v4.8 M380.35,473.3v4.8 M432.30,473.3v4.8 M484.25,473.3v4.8 M536.20,473.3v4.8" stroke="#444" stroke-width="1.1"/>
<text x="328.40" y="490.8" font-family="Liberation Sans" font-size="10.6" text-anchor="middle" fill="#222" stroke="#222" stroke-width="0.22">400</text>
<text x="380.35" y="490.8" font-family="Liberation Sans" font-size="10.6" text-anchor="middle" fill="#222" stroke="#222" stroke-width="0.22">500</text>
<text x="432.30" y="490.8" font-family="Liberation Sans" font-size="10.6" text-anchor="middle" fill="#222" stroke="#222" stroke-width="0.22">600</text>
<text x="484.25" y="490.8" font-family="Liberation Sans" font-size="10.6" text-anchor="middle" fill="#222" stroke="#222" stroke-width="0.22">700</text>
<text x="536.20" y="490.8" font-family="Liberation Sans" font-size="10.6" text-anchor="middle" fill="#222" stroke="#222" stroke-width="0.22">800</text>
<text x="365.6" y="509.9" font-family="Liberation Sans" font-size="16.8" textLength="133.2" lengthAdjust="spacingAndGlyphs" fill="#111" stroke="#111" stroke-width="0.22">Wavelength (nm)</text>
<text transform="translate(318.8,425.0) rotate(-90)" font-family="Liberation Sans" font-size="17.5" textLength="111.5" lengthAdjust="spacingAndGlyphs" fill="#111" stroke="#111" stroke-width="0.22">Intensity (a.u.)</text>
<path d="M364,270.70 h4.6 M372.6,270.70 h4.6" stroke="#4d7a9a" stroke-width="1.3"/>
<text x="383.5" y="274.00" font-family="Liberation Sans" font-size="9.4" fill="#222" stroke="#222" stroke-width="0.22">Pfr</text>
<path d="M364,282.00 h4.6 M372.6,282.00 h4.6" stroke="#8a6a4c" stroke-width="1.3"/>
<text x="383.5" y="285.30" font-family="Liberation Sans" font-size="9.4" fill="#222" stroke="#222" stroke-width="0.22">Pr</text>
<path d="M364,293.30 h4.6 M372.6,293.30 h4.6" stroke="#2f6b5c" stroke-width="1.3"/>
<text x="383.5" y="296.60" font-family="Liberation Sans" font-size="9.4" fill="#222" stroke="#222" stroke-width="0.22">chlorophyll B</text>
<path d="M364,304.60 h4.6 M372.6,304.60 h4.6" stroke="#f4c4ae" stroke-width="1.3"/>
<text x="383.5" y="307.90" font-family="Liberation Sans" font-size="9.4" fill="#222" stroke="#222" stroke-width="0.22">Phycoerythrin</text>
<line x1="363.8" y1="315.90" x2="377.4" y2="315.90" stroke="#e2643c" stroke-width="1.3"/>
<text x="383.5" y="319.20" font-family="Liberation Sans" font-size="9.4" fill="#222" stroke="#222" stroke-width="0.22">R</text>
<rect x="363.8" y="322.3" width="13.6" height="9.4" fill="#fbeedd" stroke="#f3e2cf" stroke-width="0.6"/>
<text x="383.5" y="330.3" font-family="Liberation Sans" font-size="9.4" fill="#222" stroke="#222" stroke-width="0.22">R+NIR</text>
<clipPath id="ph2"><rect x="503.3" y="297.9" width="32.4" height="31.7"/></clipPath>
<rect x="503.3" y="265" width="32.6" height="33" fill="url(#bg1)"/>
<rect x="503.3" y="265" width="32.6" height="33" fill="url(#vig1)"/>
<path d="M514.6,281 q0.3,-1.6 1.4,-1.8 q1.2,0.2 1.4,1.8 v6 l-0.5,3 l-0.3,6 h-0.5 l-0.2,-4 l-0.3,4 h-0.5 l-0.4,-6 l-0.6,-3 z" fill="#c41e24"/>
<path d="M517.5,281 q0.3,-1.6 1.4,-1.8 q1.2,0.2 1.5,1.8 v6 l-0.6,3 l-0.3,6 h-0.5 l-0.2,-4 l-0.3,4 h-0.5 l-0.4,-6 l-0.6,-3 z" fill="#22242c"/>
<ellipse cx="517.5" cy="279.3" rx="2.7" ry="1.2" fill="#dcd8d4"/>
<g clip-path="url(#ph2)">
<rect x="503.3" y="297.9" width="32.4" height="31.7" fill="#5a2e4a"/>
<circle cx="517.4" cy="310.2" r="19" fill="url(#glow)"/>
<path d="M514.8,312.5 h5.2 v5 l-0.7,11.5 h-1 l-0.6,-7 l-0.5,7 h-1 l-1.4,-11.5 z" fill="#2a0a20" fill-opacity="0.6"/>
<rect x="514.8" y="312.3" width="2.5" height="4.5" fill="#e02850" fill-opacity="0.8"/>
<circle cx="517.4" cy="310.2" r="1.6" fill="#fff"/>
</g>
</svg></body></html>
